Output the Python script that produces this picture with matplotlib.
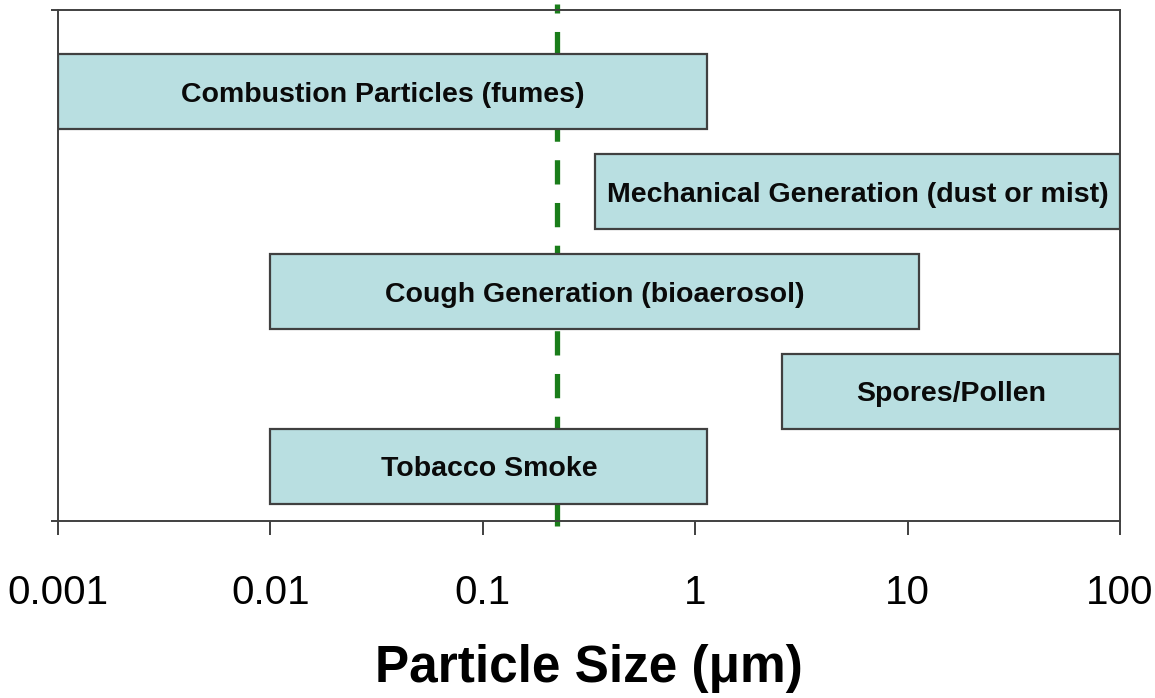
import matplotlib
matplotlib.use("Agg")
import matplotlib.pyplot as plt
import numpy as np

# Data
labels = ["Combustion Particles (fumes)", "Mechanical Generation (dust or mist)",
          "Cough Generation (bioaerosol)", "Spores/Pollen", "Tobacco Smoke"]
size_min = [0.001, 0.337, 0.01, 2.56, 0.01]
size_max = [1.14, 100, 11.3, 100, 1.14]
row_pos = [4.30, 3.30, 2.30, 1.30, 0.55]
cutoff = 0.223
xticks = [0.001, 0.01, 0.1, 1, 10, 100]
xtick_labels = ["0.001", "0.01", "0.1", "1", "10", "100"]

plt.rcParams['font.family'] = ['Liberation Sans', 'DejaVu Sans']

fig = plt.figure(figsize=(11.55, 6.98), dpi=100)
ax = fig.add_axes([58/1155, 1 - 521/698, (1120-58)/1155, 511/698])

ax.set_xscale('log')
ax.set_xlim(0.001, 100)
ax.set_ylim(0, 5.11)

edge = '#404040'
fill = '#b9dfe1'
bar_h = 0.75
for lab, lo, hi, y in zip(labels, size_min, size_max, row_pos):
    ax.barh(y, hi - lo, left=lo, height=bar_h, color=fill, edgecolor=edge,
            linewidth=1.6, zorder=3)
    xc = np.sqrt(lo * hi)
    ax.text(xc, y - 0.035, lab, ha='center', va='center', fontsize=20.5,
            fontweight='bold', color='#0a0a0a', zorder=4)

ax.plot([cutoff, cutoff], [-0.05, 5.17], color='#1a7d1a', linewidth=3.8,
        dashes=(4.6, 3.5), zorder=2, clip_on=False)

for s in ax.spines.values():
    s.set_color(edge)
    s.set_linewidth(1.4)

ax.set_xticks(xticks)
ax.set_xticklabels(xtick_labels, fontsize=29)
ax.xaxis.set_minor_locator(matplotlib.ticker.NullLocator())
ax.tick_params(axis='x', direction='out', length=10, width=1.4, color=edge, pad=28)
ax.set_yticks([0, 5.11])
ax.set_yticklabels([])
ax.tick_params(axis='y', direction='out', length=5, width=1.4, color=edge)

ax.set_xlabel("Particle Size (μm)", fontsize=37, fontweight='bold', labelpad=23)

fig.savefig("out.png", dpi=100)
